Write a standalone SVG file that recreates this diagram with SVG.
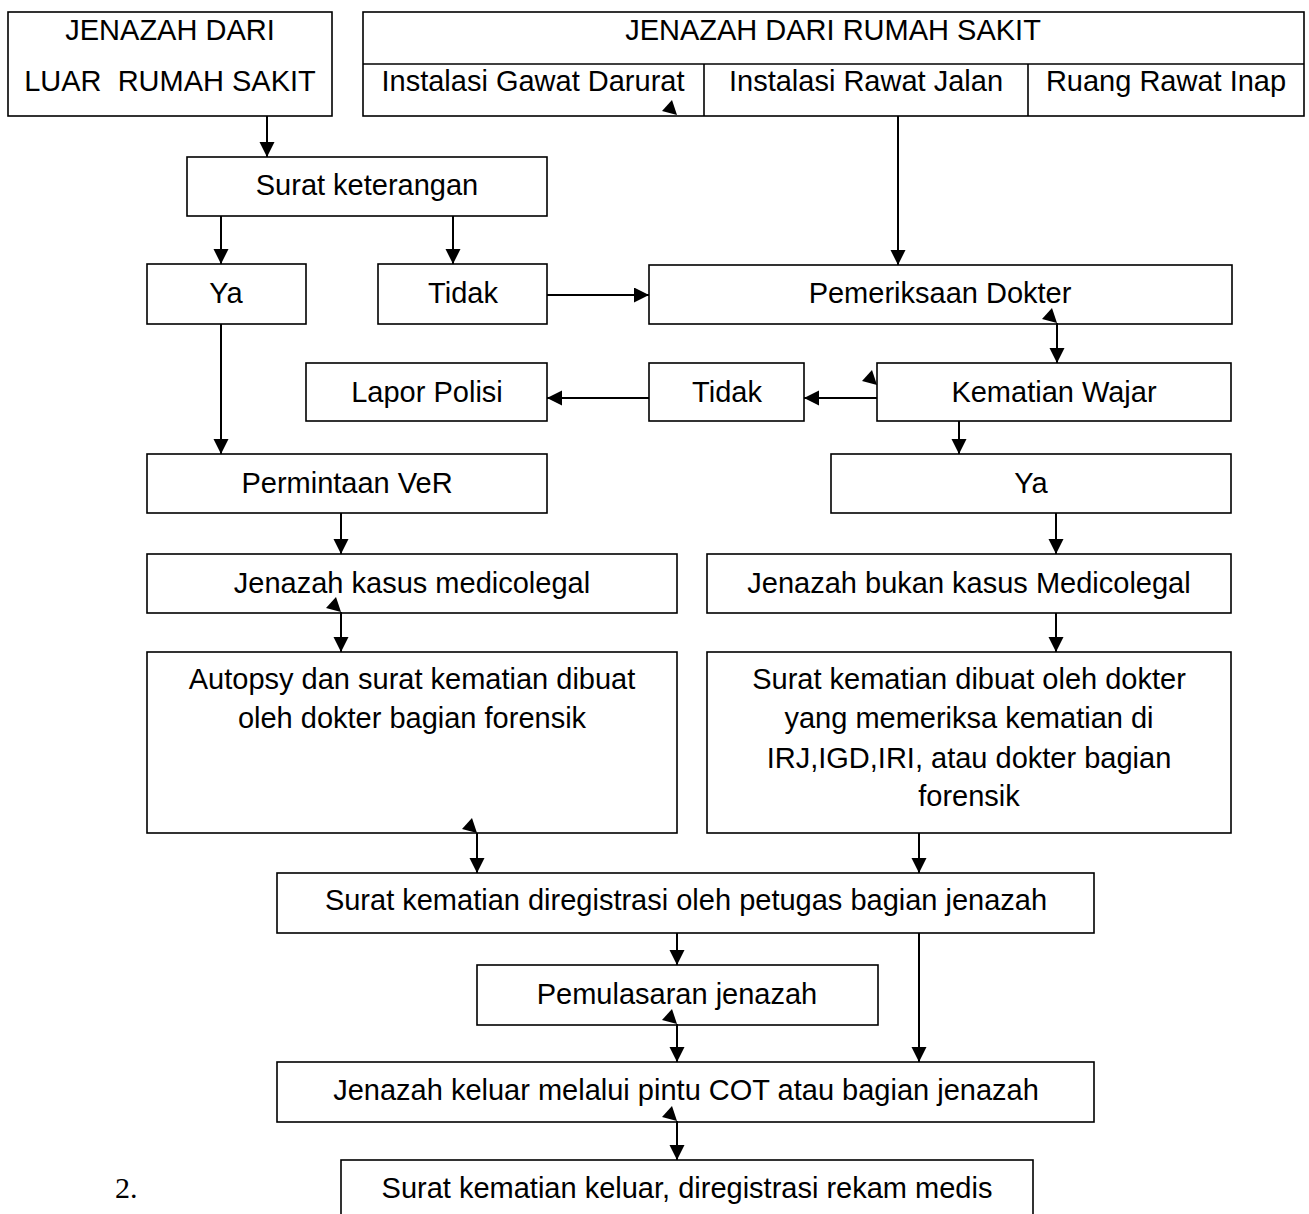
<svg xmlns="http://www.w3.org/2000/svg" xmlns:xlink="http://www.w3.org/1999/xlink" width="1309" height="1214" viewBox="0 0 1309 1214">
<style>
.box{fill:#fff;stroke:#000;stroke-width:1.6}
.ln{fill:none;stroke:#000;stroke-width:1.6}
.t{font-family:"Liberation Sans",Arial,sans-serif;font-size:29px;fill:#000;text-anchor:middle}
.c{fill:none;stroke:#000;stroke-width:2;marker-end:url(#ah)}
</style>
<defs>
<marker id="ah" markerUnits="userSpaceOnUse" markerWidth="16" markerHeight="16" refX="15" refY="7.5" orient="auto">
<path d="M0,0 L15,7.5 L0,15 z" fill="#000"/>
</marker>
<path id="sh" d="M0,0 L-5,-15 L-15,-4 z" fill="#000"/>
</defs>
<rect width="1309" height="1214" fill="#fff"/>

<g id="luar">
<rect class="box" x="8" y="12" width="324" height="104"/>
<text class="t" x="170" y="40">JENAZAH DARI</text>
<text class="t" x="170" y="91" xml:space="preserve">LUAR  RUMAH SAKIT</text>
</g>
<g id="rs">
<rect class="box" x="363" y="12" width="941" height="104"/>
<line class="ln" x1="363" y1="64" x2="1304" y2="64"/>
<line class="ln" x1="704" y1="64" x2="704" y2="116"/>
<line class="ln" x1="1028" y1="64" x2="1028" y2="116"/>
<text class="t" x="833" y="40">JENAZAH DARI RUMAH SAKIT</text>
<text class="t" x="533" y="91">Instalasi Gawat Darurat</text>
<text class="t" x="866" y="91">Instalasi Rawat Jalan</text>
<text class="t" x="1166" y="91">Ruang Rawat Inap</text>
</g>
<g id="suratket">
<rect class="box" x="187" y="157" width="360" height="59"/>
<text class="t" x="367" y="195">Surat keterangan</text>
</g>
<g id="ya1">
<rect class="box" x="147" y="264" width="159" height="60"/>
<text class="t" x="226" y="303">Ya</text>
</g>
<g id="tidak1">
<rect class="box" x="378" y="264" width="169" height="60"/>
<text class="t" x="463" y="303">Tidak</text>
</g>
<g id="periksa">
<rect class="box" x="649" y="265" width="583" height="59"/>
<text class="t" x="940" y="303">Pemeriksaan Dokter</text>
</g>
<g id="wajar">
<rect class="box" x="877" y="363" width="354" height="58"/>
<text class="t" x="1054" y="402">Kematian Wajar</text>
</g>
<g id="tidak2">
<rect class="box" x="649" y="363" width="155" height="58"/>
<text class="t" x="727" y="402">Tidak</text>
</g>
<g id="polisi">
<rect class="box" x="306" y="363" width="241" height="58"/>
<text class="t" x="427" y="402">Lapor Polisi</text>
</g>
<g id="ver">
<rect class="box" x="147" y="454" width="400" height="59"/>
<text class="t" x="347" y="493">Permintaan VeR</text>
</g>
<g id="ya2">
<rect class="box" x="831" y="454" width="400" height="59"/>
<text class="t" x="1031" y="493">Ya</text>
</g>
<g id="medicolegal">
<rect class="box" x="147" y="554" width="530" height="59"/>
<text class="t" x="412" y="593">Jenazah kasus medicolegal</text>
</g>
<g id="bukanmedicolegal">
<rect class="box" x="707" y="554" width="524" height="59"/>
<text class="t" x="969" y="593">Jenazah bukan kasus Medicolegal</text>
</g>
<g id="autopsy">
<rect class="box" x="147" y="652" width="530" height="181"/>
<text class="t" x="412" y="689">Autopsy dan surat kematian dibuat</text>
<text class="t" x="412" y="728">oleh dokter bagian forensik</text>
</g>
<g id="suratdokter">
<rect class="box" x="707" y="652" width="524" height="181"/>
<text class="t" x="969" y="689">Surat kematian dibuat oleh dokter</text>
<text class="t" x="969" y="728">yang memeriksa kematian di</text>
<text class="t" x="969" y="768">IRJ,IGD,IRI, atau dokter bagian</text>
<text class="t" x="969" y="806">forensik</text>
</g>
<g id="registrasi">
<rect class="box" x="277" y="873" width="817" height="60"/>
<text class="t" x="686" y="910">Surat kematian diregistrasi oleh petugas bagian jenazah</text>
</g>
<g id="pemulasaran">
<rect class="box" x="477" y="965" width="401" height="60"/>
<text class="t" x="677" y="1004">Pemulasaran jenazah</text>
</g>
<g id="keluar">
<rect class="box" x="277" y="1062" width="817" height="60"/>
<text class="t" x="686" y="1100">Jenazah keluar melalui pintu COT atau bagian jenazah</text>
</g>
<g id="rekammedis">
<rect class="box" x="341" y="1160" width="692" height="80"/>
<text class="t" x="687" y="1198">Surat kematian keluar, diregistrasi rekam medis</text>
</g>
<text x="115" y="1198" font-family="'Liberation Serif','Times New Roman',serif" font-size="30" fill="#000">2.</text>

<g id="connectors">
<line class="c" x1="267" y1="116" x2="267" y2="157"/>
<line class="c" x1="221" y1="216" x2="221" y2="264"/>
<line class="c" x1="453" y1="216" x2="453" y2="264"/>
<line class="c" x1="547" y1="295" x2="649" y2="295"/>
<line class="c" x1="898" y1="116" x2="898" y2="265"/>
<line class="c" x1="1057" y1="323" x2="1057" y2="363"/>
<line class="c" x1="877" y1="398" x2="804" y2="398"/>
<line class="c" x1="649" y1="398" x2="547" y2="398"/>
<line class="c" x1="221" y1="324" x2="221" y2="454"/>
<line class="c" x1="959" y1="421" x2="959" y2="454"/>
<line class="c" x1="341" y1="513" x2="341" y2="554"/>
<line class="c" x1="1056" y1="513" x2="1056" y2="554"/>
<line class="c" x1="341" y1="612" x2="341" y2="652"/>
<line class="c" x1="1056" y1="613" x2="1056" y2="652"/>
<line class="c" x1="477" y1="833" x2="477" y2="873"/>
<line class="c" x1="919" y1="833" x2="919" y2="873"/>
<line class="c" x1="677" y1="933" x2="677" y2="965"/>
<line class="c" x1="677" y1="1024" x2="677" y2="1062"/>
<line class="c" x1="919" y1="933" x2="919" y2="1062"/>
<line class="c" x1="677" y1="1121" x2="677" y2="1160"/>
<use xlink:href="#sh" x="677" y="115"/>
<use xlink:href="#sh" x="1057" y="323"/>
<use xlink:href="#sh" x="877" y="385"/>
<use xlink:href="#sh" x="341" y="612"/>
<use xlink:href="#sh" x="477" y="833"/>
<use xlink:href="#sh" x="677" y="1024"/>
<use xlink:href="#sh" x="677" y="1121"/>
</g>
</svg>
